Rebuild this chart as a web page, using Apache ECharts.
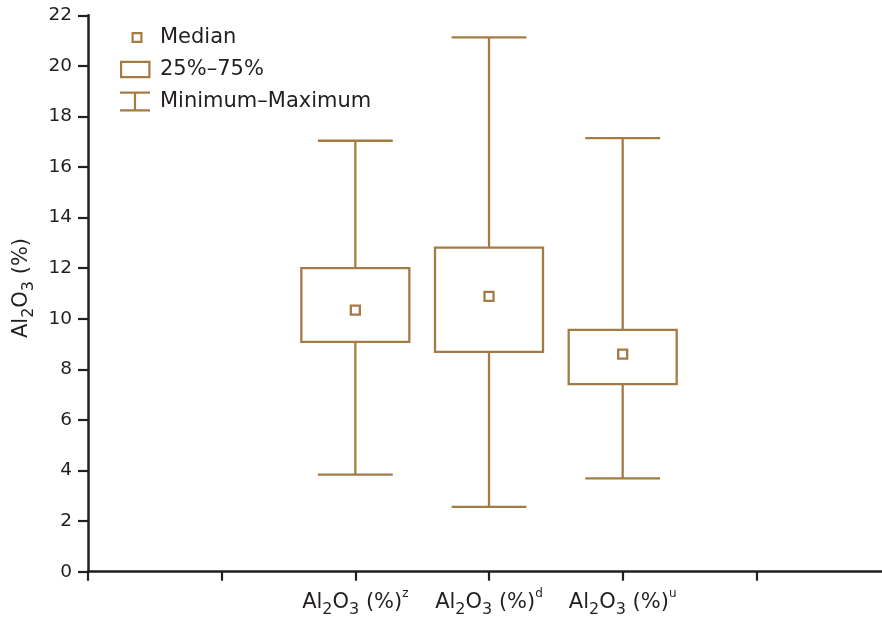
<!DOCTYPE html>
<html>
<head>
<meta charset="utf-8">
<script src="https://cdn.jsdelivr.net/npm/echarts@6/dist/echarts.min.js"></script>
<style>
  html, body { margin: 0; padding: 0; background: #fff; }
  #chart { width: 882px; height: 622px; }
</style>
</head>
<body>
<div id="chart"></div>
<script>
// ---- data ----
const superscripts = ['z', 'd', 'u'];               // category label superscripts (Al2O3 (%)^z etc.)
const axisSlots = ['', '', 'z', 'd', 'u', '', ''];  // x-axis tick slots (blank slots carry no data)
const minimums = [3.84, 2.56, 3.69];
const q1Values = [9.09, 8.69, 7.42];
const medians = [10.34, 10.89, 8.60];
const q3Values = [12.00, 12.81, 9.56];
const maximums = [17.04, 21.13, 17.14];
const yTicks = { min: 0, max: 22, interval: 2 };
const legendNames = ['Median', '25%–75%', 'Minimum–Maximum'];

// ---- styling ----
const brown = '#a57b45';
const ink = '#231f20';
const font = 'DejaVu Sans';

const xIndex = superscripts.map(s => axisSlots.indexOf(s));
const tickSlots = axisSlots.slice(0, 6).map((s, i) => i);

const labelRich = {
  m: { fontFamily: font, fontSize: 21, color: ink, lineHeight: 30, verticalAlign: 'middle' },
  s: { fontFamily: font, fontSize: 16, color: ink, lineHeight: 17.6, verticalAlign: 'bottom' },
  p: { fontFamily: font, fontSize: 12, color: ink, lineHeight: 12.9, verticalAlign: 'top' }
};
function alLabel(sup) {
  return '{m|Al}{s|2}{m|O}{s|3}{m| (%)}' + (sup ? '{p|' + sup + '}' : '');
}

const whiskerData = xIndex.map((x, i) => [x, minimums[i], q1Values[i], q3Values[i], maximums[i]]);
const boxData = xIndex.map((x, i) => [x, q1Values[i], q3Values[i]]);
const medianData = xIndex.map((x, i) => [x, medians[i]]);

const chart = echarts.init(document.getElementById('chart'), null, { renderer: 'canvas' });

const option = {
  animation: false,
  backgroundColor: '#fff',
  grid: { left: 88, right: 0, top: 15.3, bottom: 50.3, containLabel: false },
  legend: {
    orient: 'vertical',
    left: 120,
    top: 27,
    padding: 0,
    itemGap: 11,
    itemWidth: 35,
    itemHeight: 20,
    selectedMode: false,
    textStyle: { fontFamily: font, fontSize: 21, color: ink },
    itemStyle: { color: brown, borderWidth: 0 },
    data: [
      { name: legendNames[0], icon: 'path://M0 0L0 0ZM35 20L35 20ZM11.5 4.5H22.5V15.5H11.5ZM13.7 6.7V13.3H20.3V6.7Z' },
      { name: legendNames[1], icon: 'path://M0 0L0 0ZM35 20L35 20ZM0 1.3H30.5V18.7H0ZM2.2 3.5V16.5H28.3V3.5Z' },
      { name: legendNames[2], icon: 'path://M0 0L0 0ZM35 20L35 20ZM0 0H30V2.2H0ZM0 17.8H30V20H0ZM13.9 2.2H16.1V17.8H13.9Z' }
    ]
  },
  xAxis: {
    type: 'value',
    min: 0,
    max: 5.94,
    interval: 1,
    axisLine: { show: true, onZero: false, lineStyle: { color: ink, width: 2.5 } },
    axisTick: { show: true, length: 9, customValues: tickSlots, lineStyle: { color: ink, width: 2.2 } },
    axisLabel: {
      margin: 16,
      hideOverlap: false,
      showMinLabel: true,
      showMaxLabel: true,
      customValues: xIndex,
      formatter: function (v) { const s = axisSlots[Math.round(v)]; return s ? alLabel(s) : ''; },
      rich: labelRich
    },
    splitLine: { show: false }
  },
  yAxis: {
    type: 'value',
    min: yTicks.min,
    max: yTicks.max,
    interval: yTicks.interval,
    name: alLabel(''),
    nameLocation: 'middle',
    nameGap: 51.5,
    nameTextStyle: { rich: labelRich, padding: [0, 0, 0, 11] },
    axisLine: { show: true, lineStyle: { color: ink, width: 2.5 } },
    axisTick: { show: true, length: 10, lineStyle: { color: ink, width: 2.2 } },
    axisLabel: { margin: 16, fontFamily: font, fontSize: 18.5, color: ink },
    splitLine: { show: false }
  },
  series: [
    {
      name: legendNames[2],
      type: 'custom',
      data: whiskerData,
      encode: { x: 0, y: [1, 2, 3, 4] },
      itemStyle: { color: brown },
      renderItem: function (params, api) {
        const x = api.value(0);
        const pMin = api.coord([x, api.value(1)]);
        const pQ1 = api.coord([x, api.value(2)]);
        const pQ3 = api.coord([x, api.value(3)]);
        const pMax = api.coord([x, api.value(4)]);
        const half = api.size([1, 0])[0] * 0.28;
        const st = { stroke: brown, lineWidth: 2.3, fill: null };
        return {
          type: 'group',
          children: [
            { type: 'line', shape: { x1: pMax[0], y1: pMax[1], x2: pQ3[0], y2: pQ3[1] }, style: st },
            { type: 'line', shape: { x1: pQ1[0], y1: pQ1[1], x2: pMin[0], y2: pMin[1] }, style: st },
            { type: 'line', shape: { x1: pMax[0] - half, y1: pMax[1], x2: pMax[0] + half, y2: pMax[1] }, style: st },
            { type: 'line', shape: { x1: pMin[0] - half, y1: pMin[1], x2: pMin[0] + half, y2: pMin[1] }, style: st }
          ]
        };
      },
      z: 2
    },
    {
      name: legendNames[1],
      type: 'custom',
      data: boxData,
      encode: { x: 0, y: [1, 2] },
      itemStyle: { color: brown },
      renderItem: function (params, api) {
        const x = api.value(0);
        const pLow = api.coord([x, api.value(1)]);
        const pHigh = api.coord([x, api.value(2)]);
        const half = api.size([1, 0])[0] * 0.404;
        return {
          type: 'rect',
          shape: { x: pLow[0] - half, y: pHigh[1], width: half * 2, height: pLow[1] - pHigh[1] },
          style: { fill: '#fff', stroke: brown, lineWidth: 2.3 }
        };
      },
      z: 3
    },
    {
      name: legendNames[0],
      type: 'scatter',
      data: medianData,
      symbol: 'rect',
      symbolSize: 9,
      itemStyle: { color: '#fff', borderColor: brown, borderWidth: 2.3, opacity: 1 },
      emphasis: { disabled: true },
      z: 4
    }
  ]
};

chart.setOption(option);
</script>
</body>
</html>
